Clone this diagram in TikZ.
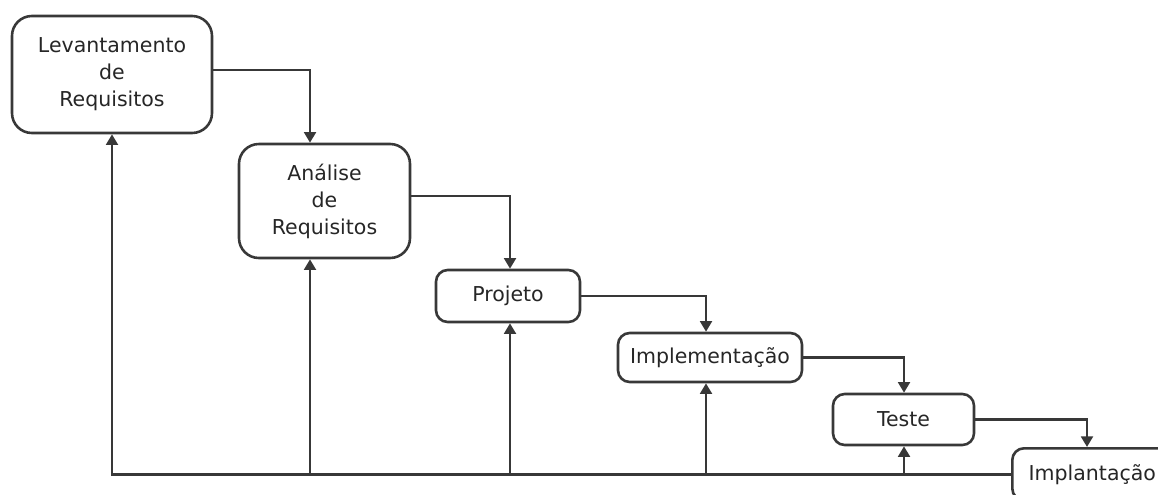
\documentclass[tikz,border=0pt]{standalone}
\usepackage{fontspec}
\setmainfont{DejaVu Sans}
\usetikzlibrary{arrows.meta}
\definecolor{linha}{HTML}{383838}

\begin{document}
\begin{tikzpicture}[x=0.03cm,y=-0.03cm,
        fase/.style={draw=linha,line width=2.2pt,rounded corners=10pt,align=center,
            inner sep=0pt,text=black!85,font=\fontsize{17.5}{23}\selectfont},
        seta/.style={draw=linha,line width=2.2pt,-{Triangle[width=10pt,length=9pt]}}]
        \clip (0,0) rectangle (1158,494);

        \node[fase,minimum width=6cm,minimum height=3.51cm,rounded corners=17pt] (lev) at (112,74.5) {Levantamento\\de\\Requisitos};
        \node[fase,minimum width=5.13cm,minimum height=3.42cm,rounded corners=17pt] (ana) at (324.5,201) {Análise\\de\\Requisitos};
        \node[fase,minimum width=4.32cm,minimum height=1.56cm] (proj) at (508,296) {Projeto};
        \node[fase,minimum width=5.52cm,minimum height=1.47cm] (impl) at (710,357.5) {Implementação};
        \node[fase,minimum width=4.23cm,minimum height=1.53cm] (tes) at (903.5,419.5) {Teste};
        \node[fase,minimum width=4.8cm,minimum height=1.56cm,anchor=north west] (impt) at (1011,447) {Implantação};

        \coordinate (k2) at (310,0);
        \coordinate (k3) at (510,0);
        \coordinate (k4) at (706,0);
        \coordinate (k5) at (904,0);
        \coordinate (k6) at (1087,0);

        % fases em cascata
        \draw[seta] ([yshift=0.13cm]lev.east) -| (k2 |- ana.north);
        \draw[seta] ([yshift=0.15cm]ana.east) -| (k3 |- proj.north);
        \draw[seta] (proj.east) -| (k4 |- impl.north);
        \draw[seta] (impl.east) -| (k5 |- tes.north);
        \draw[seta] (tes.east) -| (k6 |- impt.north);

        % retorno
        \draw[seta] (impt.west) -| (lev.south);
        \foreach \k/\f in {k2/ana,k3/proj,k4/impl,k5/tes}
            \draw[seta] (\k |- impt.west) -- (\k |- \f.south);
\end{tikzpicture}
\end{document}
